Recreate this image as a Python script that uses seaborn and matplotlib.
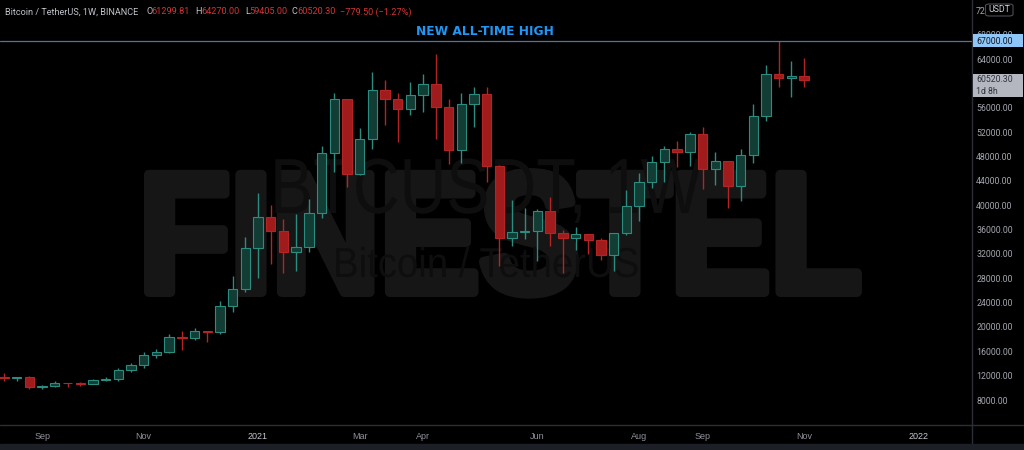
import matplotlib
matplotlib.use("Agg")
import matplotlib.pyplot as plt
from matplotlib import font_manager
from matplotlib.patches import Rectangle, FancyBboxPatch
from matplotlib.lines import Line2D
from matplotlib.transforms import Affine2D
import matplotlib.patheffects as pe
import pandas as pd
import seaborn as sns

# weekly BTC/USDT candles, first week starts 2020-08-17
first_week = "2020-08-17"
opens = [11850, 11650, 11700, 10100, 10250, 10800, 10720, 10620, 11300, 11430,
         12900, 13700, 15450, 15950, 18400, 18200, 19350, 19150, 23450, 26250,
         33000, 38150, 35790, 32260, 33090, 38790, 48580, 57410, 45140, 50970,
         59000, 57520, 55790, 58200, 59980, 56230, 49070, 56580, 58230, 46430,
         34650, 35630, 35780, 39020, 35510, 34700, 35290, 34240, 31780, 35400,
         39850, 43800, 47050, 49300, 48830, 51780, 46000, 47250, 43130, 48200,
         54640, 61530, 60860, 61299.81]
highs = [12440, 11750, 11950, 10520, 11100, 10850, 10900, 11450, 11700, 13220,
         14000, 15900, 16350, 18900, 19400, 19850, 19420, 24300, 28400, 34750,
         41950, 40050, 37750, 38570, 40950, 49730, 58400, 57500, 52650, 61860,
         60600, 58400, 60200, 61530, 64850, 57540, 58500, 59490, 59500, 46620,
         40830, 39500, 39380, 41310, 35900, 36500, 35300, 34600, 35400, 42510,
         45260, 48110, 49730, 50500, 52020, 52920, 48810, 47350, 49200, 56600,
         63000, 67000, 63710, 64270.00]
lows = [11200, 11050, 9800, 9800, 10100, 10100, 10300, 10550, 11200, 11150,
        12650, 13250, 14900, 15800, 16200, 17900, 17600, 18900, 22400, 25800,
        28000, 30350, 28820, 29260, 32300, 37990, 45530, 42960, 44950, 49200,
        53200, 50350, 54790, 55380, 50900, 46790, 47000, 52920, 43790, 30000,
        33310, 34400, 30840, 33340, 28820, 32650, 32000, 31000, 29260, 35150,
        37340, 42800, 43880, 46240, 46460, 42740, 43340, 39620, 40780, 47000,
        53900, 59490, 57850, 59405.00]
closes = [11650, 11700, 10100, 10250, 10800, 10720, 10620, 11300, 11430, 12900,
          13700, 15450, 15950, 18400, 18200, 19350, 19150, 23450, 26250, 33000,
          38150, 35790, 32260, 33090, 38790, 48580, 57410, 45140, 50970, 59000,
          57520, 55790, 58200, 59980, 56230, 49070, 56580, 58230, 46430, 34650,
          35630, 35780, 39020, 35510, 34700, 35290, 34240, 31780, 35400, 39850,
          43800, 47050, 49300, 48830, 51780, 46000, 47250, 43130, 48200, 54640,
          61530, 60860, 61299.81, 60520.30]

price_ticks = list(range(8000, 76000, 4000))
tick_dates = ["2020-09-07", "2020-11-02", "2021-01-04", "2021-03-01", "2021-04-05",
              "2021-06-07", "2021-08-02", "2021-09-06", "2021-11-01", "2022-01-03"]
tick_names = ["Sep", "Nov", "2021", "Mar", "Apr", "Jun", "Aug", "Sep", "Nov", "2022"]
ath_price = 67000.00
last_price = 60520.30

# colours
BG = "#000000"
UP_FILL, UP_EDGE = "#123d35", "#2b8c7f"
DN_FILL, DN_EDGE = "#a01c1c", "#b42424"
AXIS_TXT = "#a3a6ae"
SEP = "#2a2e39"
WM = "#161616"

sns.set_theme(style="dark", rc={"axes.facecolor": BG, "figure.facecolor": BG})
plt.rcParams["font.family"] = ["Roboto", "DejaVu Sans"]

names = {f.name for f in font_manager.fontManager.ttflist}
narrow = "Liberation Sans Narrow" if "Liberation Sans Narrow" in names else "Liberation Sans"

W, H = 1024, 450
def fx(px):
    return px / W
def fy(py):
    return 1 - py / H


class Squeeze(pe.Stroke):
    """Draws the glyph paths squeezed horizontally around x0 (display px)."""
    def __init__(self, sx, x0, **kw):
        super().__init__(**kw)
        self.sx, self.x0 = sx, x0

    def draw_path(self, renderer, gc, tpath, affine, rgbFace=None):
        squeeze = Affine2D().translate(-self.x0, 0).scale(self.sx, 1).translate(self.x0, 0)
        super().draw_path(renderer, gc, tpath, affine + squeeze, rgbFace)


df = pd.DataFrame({"open": opens, "high": highs, "low": lows, "close": closes})
df["week"] = pd.date_range(first_week, periods=len(df), freq="7D")
df["pos"] = range(len(df))
df["up"] = df["close"] >= df["open"]
df["bottom"] = df[["open", "close"]].min(axis=1)
df["size"] = (df["close"] - df["open"]).abs()

fig = plt.figure(figsize=(10.24, 4.5), dpi=100)
ax = fig.add_axes([0, fy(425), fx(972), 425 / H])
ax.set_facecolor(BG)
renderer = fig.canvas.get_renderer()


def watermark(txt, left, base, cap_px, width_px, color, weight="normal", stroke=0):
    sp = stroke * 100 / 72
    size = (cap_px - sp) / 0.716 * 72 / 100
    t = ax.text(fx(left + sp / 2), fy(base - sp / 2), txt, transform=fig.transFigure,
                ha="left", va="baseline", fontsize=size, fontweight=weight, family=narrow,
                color=color, zorder=1 if stroke else 1.5)
    sx = (width_px - sp) / t.get_window_extent(renderer).width
    x0 = left + sp / 2
    effects = [Squeeze(sx, x0)]
    if stroke:
        effects.insert(0, Squeeze(sx, x0, linewidth=stroke, foreground=color))
    t.set_path_effects(effects)
    return t


# watermark
watermark("FINESTEL", 134, 297, 132, 732, WM, weight="bold", stroke=7)
watermark("BTCUSDT, 1W", 270, 213, 56, 432, "#0e0e0e")
watermark("Bitcoin / TetherUS", 333, 277, 30, 306, "#0e0e0e")

# candles
ax.vlines(df["pos"], df["low"], df["high"],
          colors=[UP_EDGE if u else DN_EDGE for u in df["up"]], linewidth=1.0, zorder=3)
ax.bar(df["pos"], df["size"], bottom=df["bottom"], width=0.74,
       color=[UP_FILL if u else DN_FILL for u in df["up"]],
       edgecolor=[UP_EDGE if u else DN_EDGE for u in df["up"]], linewidth=0.8, zorder=4)

# all-time-high line
ax.axhline(ath_price, color="#4b77a6", linewidth=0.9, zorder=5)
ax.text(fx(485), fy(35.3), "NEW ALL-TIME HIGH", transform=fig.transFigure, ha="center",
        va="baseline", fontsize=8.8, fontweight="bold", family="DejaVu Sans", color="#2196f3")

# axes
start = pd.Timestamp(first_week)
tick_pos = [(pd.Timestamp(d) - start).days / 7 for d in tick_dates]
ax.set_xlim(-0.315, 76.22)
ax.set_ylim(3892, 73735)
ax.set_xticks(tick_pos)
ax.set_xticklabels(tick_names)
ax.yaxis.tick_right()
ax.set_yticks(price_ticks)
ax.set_yticklabels([f"{p:.2f}" for p in price_ticks])
ax.tick_params(axis="x", length=0, pad=5, labelsize=6.5)
ax.tick_params(axis="y", length=0, pad=3, labelsize=6.3, labelcolor=AXIS_TXT)
for lab in ax.get_xticklabels():
    lab.set_color("#c4c7ce" if lab.get_text().isdigit() else "#8f929a")
    lab.set_family(narrow)
ax.grid(False)
for s in ax.spines.values():
    s.set_visible(False)

# separators and bottom strip
fig.add_artist(Line2D([0, 1], [fy(425), fy(425)], color=SEP, linewidth=1))
fig.add_artist(Line2D([fx(972), fx(972)], [fy(444), 1], color=SEP, linewidth=1))
fig.add_artist(Rectangle((0, 0), 1, 6 / H, color="#1c1f26", zorder=2))

# price labels on the right scale
fig.add_artist(Rectangle((fx(972.5), fy(47)), fx(50), 12.5 / H, facecolor="#8ec6f8",
                         edgecolor="none", zorder=4))
fig.text(fx(976), fy(41), f"{ath_price:.2f}", ha="left", va="center", fontsize=6.3,
         color="#131722", zorder=5)
fig.add_artist(Rectangle((fx(972.5), fy(97)), fx(50), 23 / H, facecolor="#b4b7bf",
                         edgecolor="none", zorder=4))
fig.text(fx(976), fy(80), f"{last_price:.2f}", ha="left", va="center", fontsize=6.3,
         color="#2e323c", zorder=5)
fig.text(fx(976), fy(91), "1d 8h", ha="left", va="center", fontsize=6.3,
         color="#2e323c", zorder=5)
fig.add_artist(FancyBboxPatch((fx(985.5), fy(16)), fx(27.5), 12 / H,
                              boxstyle="round,pad=0,rounding_size=0.004",
                              facecolor=BG, edgecolor="#4a4e59", linewidth=0.8, zorder=4))
fig.text(fx(999), fy(10), "USDT", ha="center", va="center", fontsize=6.3,
         color="#d1d4dc", zorder=5)

# header
grey, red = "#c0c3ca", "#d43434"
header = [(5, "Bitcoin / TetherUS, 1W, BINANCE", grey),
          (146.5, "O", grey), (151.5, "61299.81", red),
          (195.5, "H", grey), (201.5, "64270.00", red),
          (245, "L", grey), (249.5, "59405.00", red),
          (292, "C", grey), (297.5, "60520.30", red),
          (340.5, "\u2212779.50 (\u22121.27%)", red)]
for px, txt, col in header:
    fig.text(fx(px), fy(14.5), txt, ha="left", va="baseline", fontsize=6.6, color=col)

fig.savefig("out.png", dpi=100, facecolor=BG)
